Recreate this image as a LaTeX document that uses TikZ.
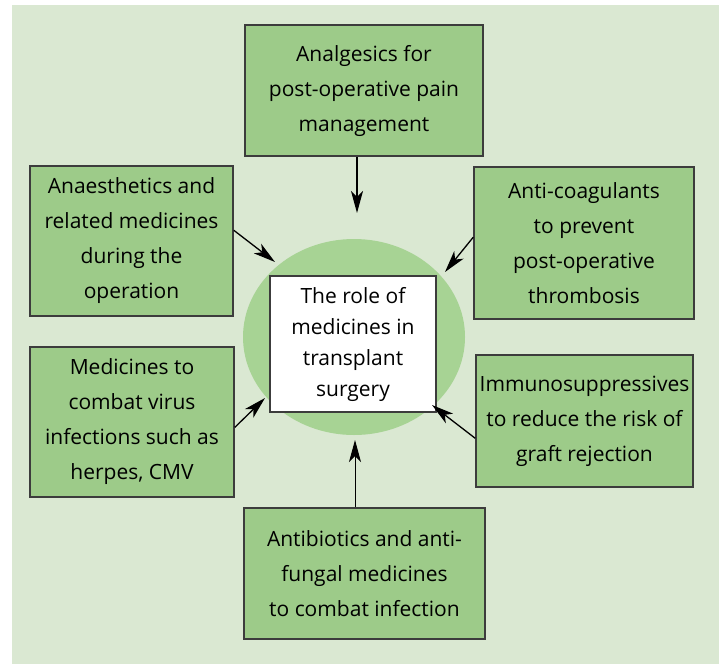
\documentclass[tikz,border=0pt]{standalone}
\usepackage{fontspec}
\setmainfont{Open Sans}
\usetikzlibrary{arrows.meta, shapes.geometric}
\definecolor{panelgreen}{HTML}{DAE8D2}
\definecolor{boxgreen}{HTML}{9DCB89}
\definecolor{ringgreen}{HTML}{A7D394}
\definecolor{boxline}{HTML}{3C3C3C}
\tikzset{
	boxnode/.style={
			rectangle,
			draw=boxline,
			line width=1.5pt,
			fill=boxgreen,
			align=center,
			inner sep=0pt,
			font=\fontsize{21}{35}\selectfont
		},
	rolenode/.style={
			boxnode,
			fill=white,
			line width=1.2pt,
			font=\fontsize{21}{31}\selectfont
		},
	ringnode/.style={
			ellipse,
			draw=none,
			fill=ringgreen,
			inner sep=0pt
		}
}

\begin{document}
\begin{tikzpicture}[x=1pt, y=-1pt]
\useasboundingbox (0,0) rectangle (719,664);
\fill[panelgreen] (12,5) rectangle (719,664);

\node[ringnode, minimum width=222pt, minimum height=196pt] (ring) at (354,337) {};
\node[rolenode, minimum width=166pt, minimum height=136pt] (role) at (353,344)
  {The role of\\ medicines in\\ transplant\\ surgery};

\node[boxnode, minimum width=238pt, minimum height=131pt] (pain) at (364,90.5)
  {Analgesics for\\ post-operative pain\\ management};
\node[boxnode, minimum width=203pt, minimum height=150pt] (anaes) at (131.5,241)
  {Anaesthetics and\\ related medicines\\ during the\\ operation};
\node[boxnode, minimum width=220pt, minimum height=152pt] (clot) at (584,243)
  {Anti-coagulants\\ to prevent\\ post-operative\\ thrombosis};
\node[boxnode, minimum width=204pt, minimum height=150pt] (virus) at (132,422)
  {Medicines to\\ combat virus\\ infections such as\\ herpes, CMV};
\node[boxnode, minimum width=217pt, minimum height=132pt] (immuno) at (584.5,421)
  {Immunosuppressives\\ to reduce the risk of\\ graft rejection};
\node[boxnode, minimum width=241pt, minimum height=131pt] (infect) at (364.5,573.5)
  {Antibiotics and anti-\\ fungal medicines\\ to combat infection};

% arrow tips sit just outside the ring
\coordinate (tipN) at (357,213);
\coordinate (tipNW) at (275,262);
\coordinate (tipNE) at (445,272);
\coordinate (tipSW) at (265,398);
\coordinate (tipSE) at (432,405);
\coordinate (tipS) at (355,440);

\draw[line width=1.3pt, -{Stealth[length=22pt, width=12pt, inset=6pt]}] (pain.south -| tipN) -- (tipN);
\draw[line width=1.3pt, -{Stealth[length=22pt, width=12pt, inset=6pt]}] (anaes.6) -- (tipNW);
\draw[line width=1.3pt, -{Stealth[length=22pt, width=12pt, inset=6pt]}] (clot.177) -- (tipNE);
\draw[line width=1.3pt, -{Stealth[length=22pt, width=12pt, inset=6pt]}] (virus.-3) -- (tipSW);
\draw[line width=1.3pt, -{Stealth[length=22pt, width=12pt, inset=6pt]}] (immuno.189) -- (tipSE);
\draw[line width=1pt, -{Stealth[length=22pt, width=12pt, inset=6pt]}] (infect.north -| tipS) -- (tipS);
\end{tikzpicture}
\end{document}
